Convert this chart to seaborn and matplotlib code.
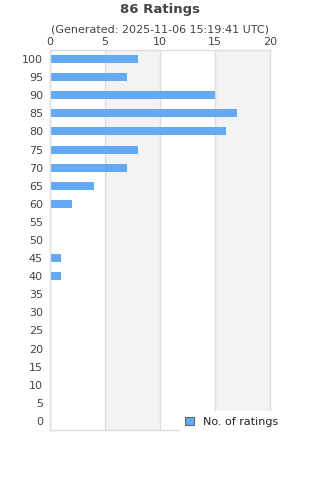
"""Horizontal bar chart of rating counts per score bucket."""
import matplotlib
matplotlib.use("Agg")
import matplotlib.pyplot as plt
import pandas as pd
import seaborn as sns

SCORES = ["100", "95", "90", "85", "80", "75", "70", "65", "60", "55", "50",
          "45", "40", "35", "30", "25", "20", "15", "10", "5", "0"]
COUNTS = [8, 7, 15, 17, 16, 8, 7, 4, 2, 0, 0, 1, 1, 0, 0, 0, 0, 0, 0, 0, 0]
X_TICKS = [0, 5, 10, 15, 20]

BLUE = "#63a9f3"
TEXT = "#444444"
GRID = "#dddddd"
BAND = "#f3f3f3"

sns.set_style("white")
plt.rcParams["font.family"] = ["DejaVu Sans"]

df = pd.DataFrame({"score": SCORES, "count": COUNTS})

fig = plt.figure(figsize=(3.2, 4.8), dpi=100)
ax = fig.add_axes([50 / 320, 1 - 430 / 480, 220 / 320, 380 / 480])

for lo, hi in [(5, 10), (15, 20)]:
    ax.axvspan(lo, hi, color=BAND, zorder=0, lw=0)
for x in X_TICKS:
    ax.axvline(x, color=GRID, lw=1, zorder=0.5)

sns.barplot(data=df, x="count", y="score", order=SCORES, orient="h",
            color=BLUE, width=0.44, saturation=1, linewidth=0, ax=ax,
            zorder=2, label="No. of ratings")

ax.set_xlim(0, 20)
ax.set_ylim(20.5, -0.5)
ax.set_xticks(X_TICKS)
ax.xaxis.tick_top()
ax.tick_params(axis="both", length=0, labelsize=8, labelcolor=TEXT)
ax.tick_params(axis="x", pad=2)
ax.tick_params(axis="y", pad=5)
ax.set_xlabel("")
ax.set_ylabel("")
for s in ax.spines.values():
    s.set_color(GRID)
    s.set_linewidth(1)

fig.text(0.5, 1 - 10 / 480, "86 Ratings", ha="center", va="center",
         fontsize=9.5, fontweight="bold", color=TEXT)
fig.text(0.5, 1 - 30 / 480, "(Generated: 2025-11-06 15:19:41 UTC)",
         ha="center", va="center", fontsize=8, color=TEXT)

leg = ax.legend(loc="center", bbox_to_anchor=(232 / 320, 1 - 422 / 480),
                bbox_transform=fig.transFigure, frameon=True, fontsize=8,
                handlelength=0.8, handleheight=0.8, handletextpad=0.8,
                borderpad=0.5, fancybox=False)
leg.get_frame().set_edgecolor("white")
leg.get_frame().set_facecolor("white")
leg.get_frame().set_alpha(1)
for t in leg.get_texts():
    t.set_color("#222222")
for h in leg.legend_handles:
    h.set_edgecolor("#666666")
    h.set_linewidth(0.8)
leg.set_zorder(5)

fig.savefig("out.png", dpi=100)
